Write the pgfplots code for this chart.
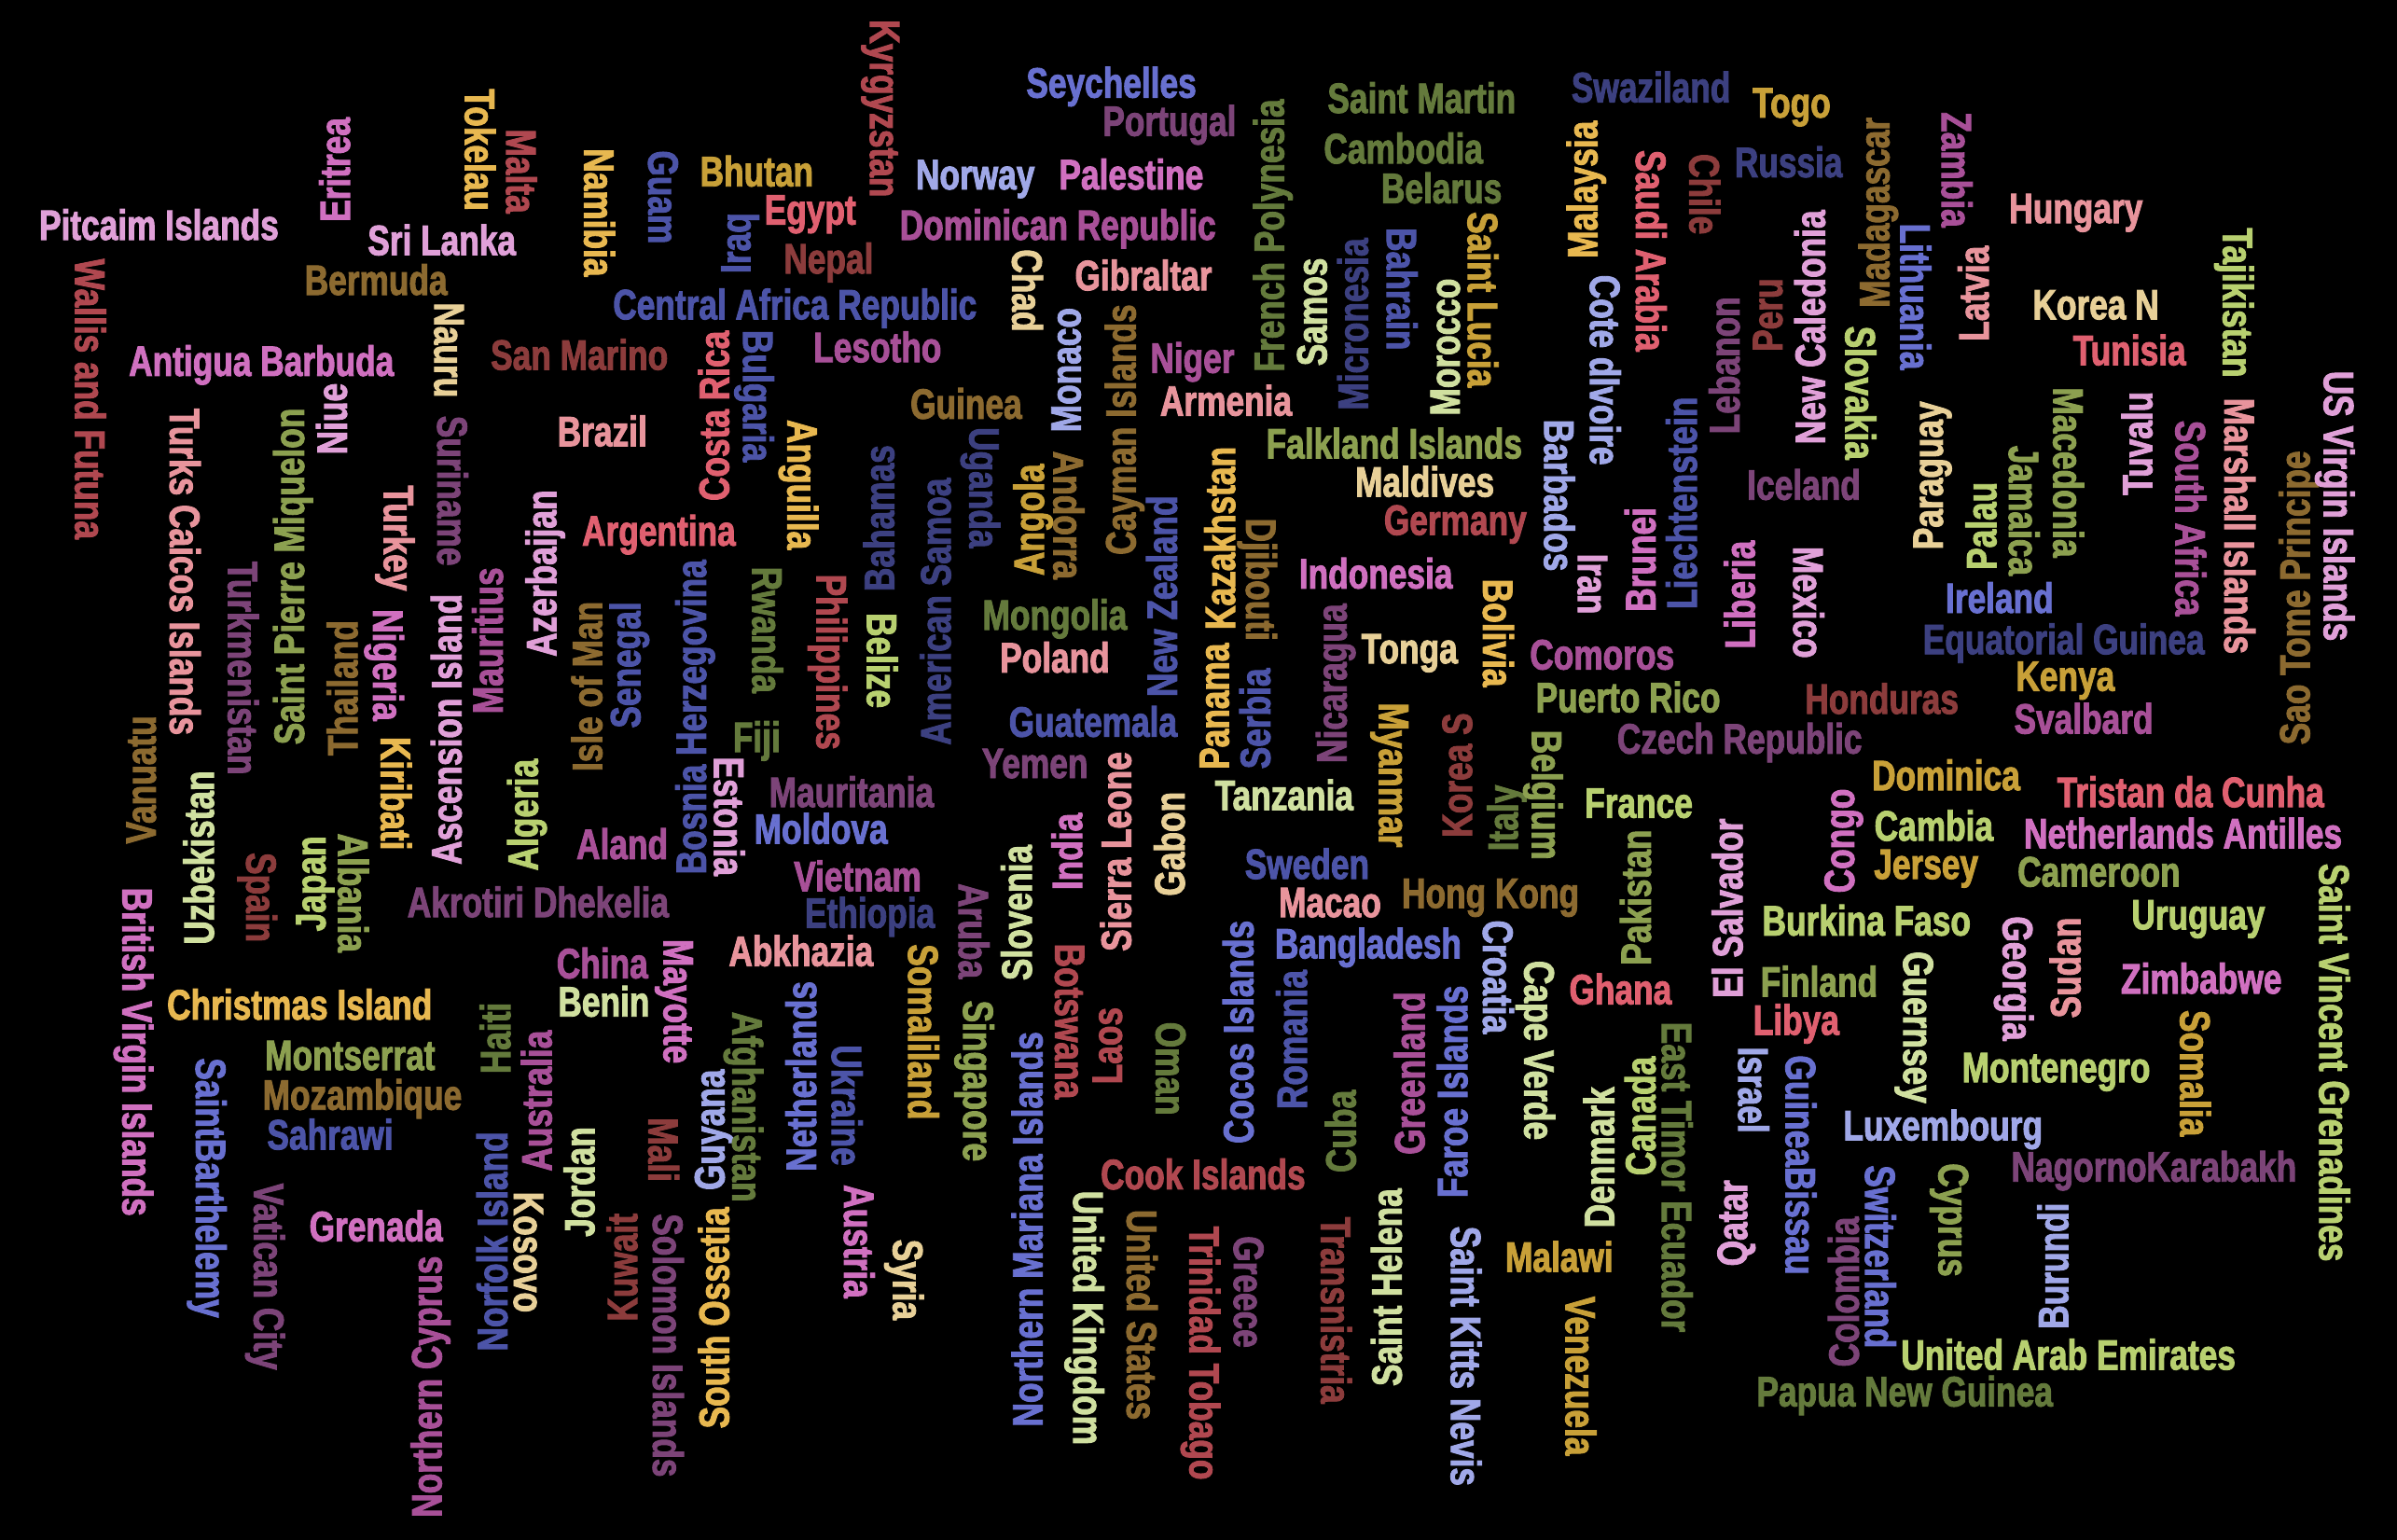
\documentclass[border=0pt]{standalone}
\usepackage{fontspec}
\setmainfont{Liberation Sans}[FakeStretch=0.775, BoldFeatures={FakeBold=2}]
\usepackage{pgfplots}
\usepackage{pgfplotstable}
\pgfplotsset{compat=1.18}

\definecolor{wpl}{HTML}{E0A0D8}
\definecolor{wmg}{HTML}{D070C0}
\definecolor{wpm}{HTML}{A85098}
\definecolor{wpd}{HTML}{7C4478}
\definecolor{wrm}{HTML}{B04850}
\definecolor{wrd}{HTML}{8C3C3C}
\definecolor{wsa}{HTML}{E06070}
\definecolor{wps}{HTML}{E8949C}
\definecolor{wye}{HTML}{E8B850}
\definecolor{wmu}{HTML}{C8A038}
\definecolor{wbr}{HTML}{8C6A30}
\definecolor{wcr}{HTML}{E8D098}
\definecolor{wod}{HTML}{647A3C}
\definecolor{wol}{HTML}{8CA050}
\definecolor{wgl}{HTML}{B8D070}
\definecolor{wgp}{HTML}{D0E0A0}
\definecolor{wnv}{HTML}{3C4080}
\definecolor{wbl}{HTML}{4C54A8}
\definecolor{wbb}{HTML}{6870D0}
\definecolor{wlv}{HTML}{A0A8E8}

\newcommand\wfont{\fontsize{7.9}{8}\selectfont\bfseries}
\newcommand\w[2]{\textcolor{#1}{#2}}

% x, y in pixels of the picture (y downwards)
% horizontal words
\pgfplotstableread[col sep=comma, row sep=\\]{
x,y,label\\
104,147,\w{wpl}{Pitcaim Islands}\\
289,157,\w{wpl}{Sri Lanka}\\
246,183,\w{wbr}{Bermuda}\\
171,236,\w{wmg}{Antigua Barbuda}\\
379,232,\w{wrd}{San Marino}\\
394,282,\w{wps}{Brazil}\\
352,590,\w{wpd}{Akrotiri Dhekelia}\\
196,657,\w{wye}{Christmas Island}\\
229,690,\w{wol}{Montserrat}\\
237,716,\w{wbr}{Mozambique}\\
216,742,\w{wbl}{Sahrawi}\\
246,802,\w{wmg}{Grenada}\\
495,112,\w{wmu}{Bhutan}\\
530,137,\w{wsa}{Egypt}\\
542,169,\w{wrd}{Nepal}\\
520,199,\w{wbl}{Central Africa Republic}\\
574,227,\w{wpm}{Lesotho}\\
727,54,\w{wbb}{Seychelles}\\
765,79,\w{wpd}{Portugal}\\
638,114,\w{wlv}{Norway}\\
740,114,\w{wmg}{Palestine}\\
692,147,\w{wpm}{Dominican Republic}\\
748,180,\w{wps}{Gibraltar}\\
632,264,\w{wbr}{Guinea}\\
780,234,\w{wpm}{Niger}\\
802,262,\w{wps}{Armenia}\\
431,347,\w{wsa}{Argentina}\\
495,482,\w{wod}{Fiji}\\
557,518,\w{wpd}{Mauritania}\\
537,542,\w{wbb}{Moldova}\\
407,552,\w{wpm}{Aland}\\
561,573,\w{wpm}{Vietnam}\\
569,597,\w{wnv}{Ethiopia}\\
524,622,\w{wps}{Abkhazia}\\
394,630,\w{wpm}{China}\\
395,655,\w{wgp}{Benin}\\
690,402,\w{wod}{Mongolia}\\
690,430,\w{wps}{Poland}\\
715,472,\w{wbl}{Guatemala}\\
677,499,\w{wpd}{Yemen}\\
787,768,\w{wrm}{Cook Islands}\\
1020,822,\w{wmu}{Malawi}\\
952,340,\w{wrm}{Germany}\\
900,375,\w{wmg}{Indonesia}\\
922,424,\w{wcr}{Tonga}\\
840,520,\w{wgp}{Tanzania}\\
1048,428,\w{wpm}{Comoros}\\
1065,456,\w{wol}{Puerto Rico}\\
1138,483,\w{wpd}{Czech Republic}\\
1072,525,\w{wgl}{France}\\
855,565,\w{wbl}{Sweden}\\
870,590,\w{wps}{Macao}\\
975,584,\w{wbr}{Hong Kong}\\
895,617,\w{wbb}{Bangladesh}\\
1060,647,\w{wsa}{Ghana}\\
930,64,\w{wod}{Saint Martin}\\
918,97,\w{wod}{Cambodia}\\
943,123,\w{wod}{Belarus}\\
912,290,\w{wol}{Falkland Islands}\\
932,315,\w{wcr}{Maldives}\\
1080,57,\w{wnv}{Swaziland}\\
1172,67,\w{wmu}{Togo}\\
1170,106,\w{wnv}{Russia}\\
1180,317,\w{wpd}{Iceland}\\
1358,136,\w{wps}{Hungary}\\
1371,199,\w{wcr}{Korea N}\\
1393,229,\w{wsa}{Tunisia}\\
1308,391,\w{wbb}{Ireland}\\
1350,418,\w{wnv}{Equatorial Guinea}\\
1351,442,\w{wmu}{Kenya}\\
1363,470,\w{wpm}{Svalbard}\\
1231,457,\w{wrd}{Honduras}\\
1273,507,\w{wmu}{Dominica}\\
1433,518,\w{wsa}{Tristan da Cunha}\\
1265,540,\w{wgl}{Cambia}\\
1260,565,\w{wmu}{Jersey}\\
1428,545,\w{wmg}{Netherlands Antilles}\\
1373,570,\w{wol}{Cameroon}\\
1221,602,\w{wgl}{Burkina Faso}\\
1438,598,\w{wgl}{Uruguay}\\
1440,640,\w{wmg}{Zimbabwe}\\
1190,642,\w{wol}{Finland}\\
1175,667,\w{wsa}{Libya}\\
1345,698,\w{wgl}{Montenegro}\\
1271,736,\w{wlv}{Luxembourg}\\
1409,763,\w{wpd}{NagornoKarabakh}\\
1353,886,\w{wgl}{United Arab Emirates}\\
1246,910,\w{wod}{Papua New Guinea}\\
}\flat

% words reading upwards
\pgfplotstableread[col sep=comma, row sep=\\]{
x,y,label\\
219,111,\w{wmg}{Eritrea}\\
217,274,\w{wpl}{Niue}\\
189,377,\w{wol}{Saint Pierre Miquelon}\\
224,450,\w{wbr}{Thailand}\\
292,477,\w{wpl}{Ascension Island}\\
319,419,\w{wpm}{Mauritius}\\
354,375,\w{wpl}{Azerbaijan}\\
384,449,\w{wbr}{Isle of Man}\\
92,510,\w{wbr}{Vanuatu}\\
130,561,\w{wgp}{Uzbekistan}\\
203,578,\w{wgl}{Japan}\\
342,533,\w{wgl}{Algeria}\\
279,907,\w{wpm}{Northern Cyprus}\\
324,679,\w{wod}{Haiti}\\
351,720,\w{wpm}{Australia}\\
322,812,\w{wbl}{Norfolk Island}\\
379,773,\w{wgp}{Jordan}\\
481,159,\w{wbl}{Iraq}\\
467,272,\w{wsa}{Costa Rica}\\
697,242,\w{wlv}{Monaco}\\
733,281,\w{wbr}{Cayman Islands}\\
575,339,\w{wnv}{Bahamas}\\
612,400,\w{wnv}{American Samoa}\\
673,340,\w{wmu}{Angola}\\
760,390,\w{wbl}{New Zealand}\\
409,435,\w{wbl}{Senegal}\\
452,469,\w{wbl}{Bosnia Herzegovina}\\
698,557,\w{wmg}{India}\\
730,557,\w{wps}{Sierra Leone}\\
765,552,\w{wcr}{Gabon}\\
665,597,\w{wgp}{Slovenia}\\
724,684,\w{wrm}{Laos}\\
524,704,\w{wbb}{Netherlands}\\
464,739,\w{wlv}{Guyana}\\
407,829,\w{wrd}{Kuwait}\\
467,862,\w{wye}{South Ossetia}\\
672,804,\w{wbb}{Northern Mariana Islands}\\
907,842,\w{wgp}{Saint Helena}\\
1046,757,\w{wgp}{Denmark}\\
1073,730,\w{wgl}{Canada}\\
877,740,\w{wod}{Cuba}\\
922,702,\w{wpm}{Greenland}\\
950,714,\w{wbb}{Faroe Islands}\\
810,675,\w{wbb}{Cocos Islands}\\
845,680,\w{wbl}{Romania}\\
1133,800,\w{wpl}{Qatar}\\
798,352,\w{wye}{Kazakhstan}\\
794,462,\w{wye}{Panama}\\
821,470,\w{wbl}{Serbia}\\
871,447,\w{wpd}{Nicaragua}\\
953,507,\w{wrd}{Korea S}\\
983,535,\w{wod}{Italy}\\
1070,587,\w{wol}{Pakistan}\\
1130,594,\w{wpl}{El Salvador}\\
1073,366,\w{wmg}{Brunei}\\
1100,329,\w{wbl}{Liechtenstein}\\
1138,389,\w{wmg}{Liberia}\\
830,154,\w{wod}{French Polynesia}\\
858,204,\w{wgp}{Samos}\\
885,212,\w{wnv}{Micronesia}\\
945,227,\w{wgp}{Morocco}\\
1035,124,\w{wye}{Malaysia}\\
1128,239,\w{wpd}{Lebanon}\\
1156,206,\w{wrd}{Peru}\\
1184,214,\w{wpl}{New Caledonia}\\
1226,139,\w{wbr}{Madagascar}\\
1291,192,\w{wps}{Latvia}\\
1261,311,\w{wcr}{Paraguay}\\
1296,344,\w{wgl}{Palau}\\
1398,290,\w{wpl}{Tuvalu}\\
1501,391,\w{wbr}{Sao Tome Principe}\\
1203,550,\w{wmg}{Congo}\\
1351,633,\w{wps}{Sudan}\\
1206,845,\w{wpd}{Colombia}\\
1343,828,\w{wlv}{Burundi}\\
}\up

% words reading downwards
\pgfplotstableread[col sep=comma, row sep=\\]{
x,y,label\\
59,261,\w{wrm}{Wallis and Futuna}\\
314,98,\w{wye}{Tokelau}\\
341,112,\w{wrm}{Malta}\\
294,229,\w{wcr}{Nauru}\\
121,374,\w{wps}{Turks Caicos Islands}\\
296,321,\w{wpd}{Suriname}\\
261,352,\w{wps}{Turkey}\\
159,437,\w{wpd}{Turkmenistan}\\
254,435,\w{wmg}{Nigeria}\\
259,519,\w{wye}{Kiribati}\\
171,587,\w{wrd}{Spain}\\
231,584,\w{wol}{Albania}\\
90,688,\w{wmg}{British Virgin Islands}\\
138,777,\w{wbb}{SaintBarthelemy}\\
176,835,\w{wpd}{Vatican City}\\
346,819,\w{wcr}{Kosovo}\\
579,71,\w{wrm}{Kyrgyzstan}\\
392,139,\w{wye}{Namibia}\\
434,129,\w{wbl}{Guam}\\
496,259,\w{wbl}{Bulgaria}\\
525,317,\w{wye}{Anguilla}\\
672,190,\w{wcr}{Chad}\\
644,319,\w{wnv}{Uganda}\\
699,337,\w{wbr}{Andorra}\\
502,412,\w{wod}{Rwanda}\\
544,433,\w{wrm}{Philippines}\\
577,432,\w{wgl}{Belize}\\
477,534,\w{wpl}{Estonia}\\
444,655,\w{wmg}{Mayotte}\\
637,609,\w{wpd}{Aruba}\\
604,675,\w{wmu}{Somaliland}\\
700,668,\w{wrm}{Botswana}\\
640,707,\w{wol}{Singapore}\\
766,699,\w{wod}{Oman}\\
489,724,\w{wod}{Afghanistan}\\
554,723,\w{wbl}{Ukraine}\\
434,752,\w{wrd}{Mali}\\
437,880,\w{wpd}{Solomon Islands}\\
562,812,\w{wmg}{Austria}\\
594,837,\w{wcr}{Syria}\\
712,862,\w{wgp}{United Kingdom}\\
747,860,\w{wbr}{United States}\\
788,885,\w{wrm}{Trinidad Tobago}\\
817,845,\w{wpd}{Greece}\\
874,857,\w{wrd}{Transnistria}\\
959,887,\w{wlv}{Saint Kitts Nevis}\\
1034,900,\w{wmu}{Venezuela}\\
1097,770,\w{wod}{East Timor Ecuador}\\
1147,713,\w{wlv}{Israel}\\
1178,762,\w{wbb}{GuineaBissau}\\
1007,687,\w{wgp}{Cape Verde}\\
980,639,\w{wlv}{Croatia}\\
825,379,\w{wbr}{Djibouti}\\
980,414,\w{wye}{Bolivia}\\
912,507,\w{wmu}{Myanmar}\\
1012,520,\w{wol}{Belgium}\\
1042,382,\w{wpl}{Iran}\\
1020,324,\w{wlv}{Barbados}\\
917,189,\w{wbl}{Bahrain}\\
970,196,\w{wmu}{Saint Lucia}\\
1080,164,\w{wsa}{Saudi Arabia}\\
1115,127,\w{wrd}{Chile}\\
1050,242,\w{wlv}{Cote dIvoire}\\
1280,111,\w{wpm}{Zambia}\\
1253,194,\w{wbb}{Lithuania}\\
1217,257,\w{wgl}{Slovakia}\\
1464,198,\w{wgl}{Tajikistan}\\
1530,331,\w{wpl}{US Virgin Islands}\\
1324,334,\w{wol}{Jamaica}\\
1353,309,\w{wol}{Macedonia}\\
1433,339,\w{wpm}{South Africa}\\
1465,344,\w{wps}{Marshall Islands}\\
1183,394,\w{wpl}{Mexico}\\
1527,695,\w{wgl}{Saint Vincent Grenadines}\\
1320,640,\w{wpl}{Georgia}\\
1255,672,\w{wgp}{Guernsey}\\
1436,702,\w{wmu}{Somalia}\\
1230,822,\w{wbb}{Switzerland}\\
1278,798,\w{wol}{Cyprus}\\
}\down

\pgfplotsset{
    word/.style={
        only marks, mark=*, mark size=0pt,
        mark options={draw=none, fill=none},
        point meta=explicit symbolic,
        nodes near coords,
        every node near coord/.append style={
            anchor=center, rotate=#1, inner sep=0pt,
            font=\wfont, text height=5.6pt, text depth=0pt}
    }
}

\begin{document}
\begin{tikzpicture}
\begin{axis}[
    scale only axis,
    width=156.8mm,
    height=100.7mm,
    xmin=0, xmax=1568,
    ymin=0, ymax=1007,
    y dir=reverse,
    axis background/.style={fill=black},
    axis line style={draw=none},
    ticks=none,
    clip=false
]
\addplot[word=0] table[x=x, y=y, meta=label] {\flat};
\addplot[word=90] table[x=x, y=y, meta=label] {\up};
\addplot[word=-90] table[x=x, y=y, meta=label] {\down};
\end{axis}
\end{tikzpicture}
\end{document}
